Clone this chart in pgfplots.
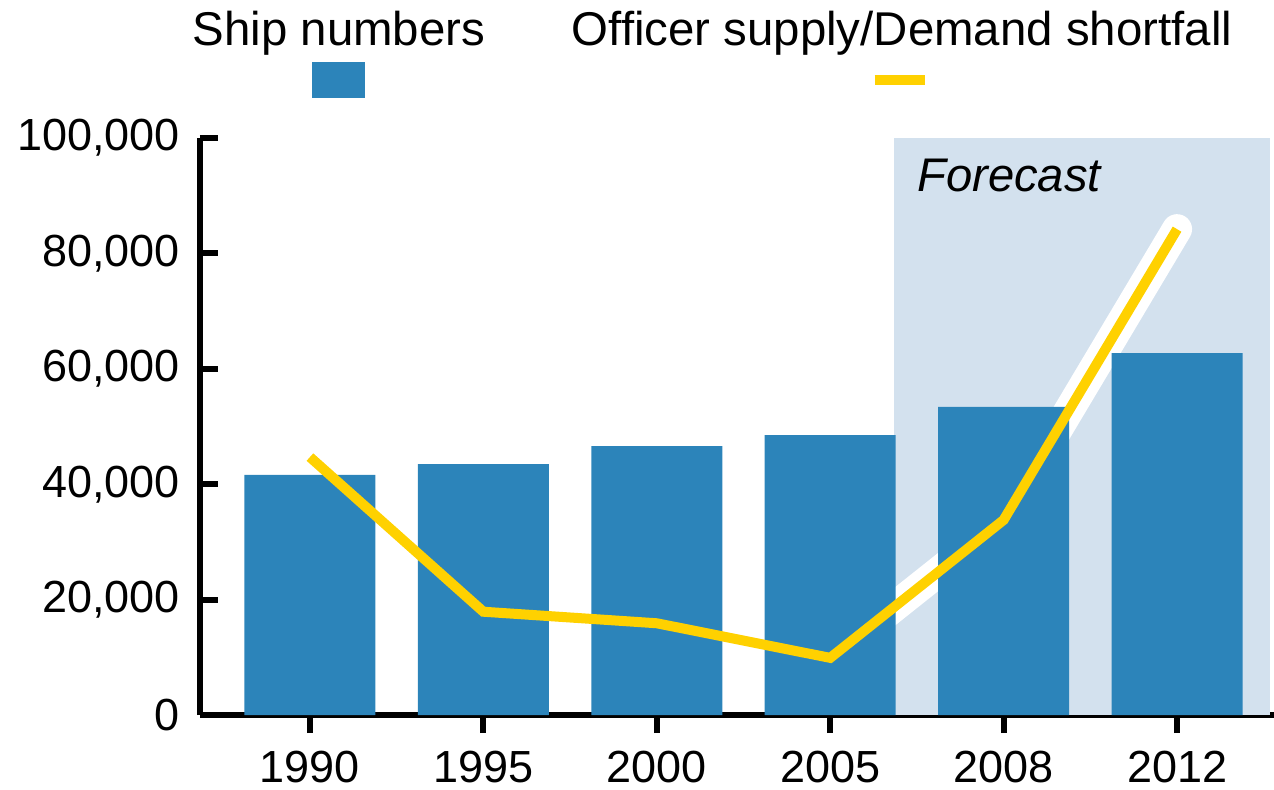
\documentclass[border=0pt]{standalone}
\usepackage{fontspec}
\setmainfont{Liberation Sans}
\usepackage{pgfplots}
\pgfplotsset{compat=1.18}
\definecolor{barblue}{HTML}{2C84BA}
\definecolor{shadebg}{HTML}{D3E1EE}
\definecolor{lineyel}{HTML}{FFD100}
\begin{document}
\fontsize{22.3}{26}\selectfont
\begin{tikzpicture}
\begin{axis}[
 at={(0,0)}, anchor=south west,
 scale only axis, width=537pt, height=288.5pt,
 xmin=-0.634, xmax=5.559, ymin=0, ymax=100000,
 axis x line=bottom, axis y line=left,
 axis line style={-, line width=3pt, black},
 xtick={0,...,5}, xticklabels={1990,1995,2000,2005,2008,2012},
 ytick={0,20000,...,100000},
 scaled y ticks=false,
 yticklabel style={xshift=-2.5pt, /pgf/number format/.cd, fixed, 1000 sep={,}},
 /pgf/number format/assume math mode=true,
 tick align=inside,
 major tick length=9pt,
 tick style={line width=3pt, black},
 every x tick/.append style={yshift=-9pt},
 xticklabel style={inner sep=0pt, yshift=-18pt},
 clip=false,
 font=\fontsize{22.5}{26}\selectfont,
]
\fill[shadebg] (axis cs:3.368,0) rectangle (axis cs:5.536,100000);
\node[anchor=base west, inner sep=0pt, font=\fontsize{23.6}{26}\selectfont\itshape] at (axis cs:3.50,90800) {Forecast};
\addplot[white, line width=15pt, line cap=round, line join=round, mark=none] coordinates {
 (0,44700) (1,17900) (2,15900) (3,9900) (4,33800) (5,84200)};
\addplot[ybar, bar width=65.5pt, fill=barblue, draw=none] coordinates {
 (0,41600) (1,43500) (2,46600) (3,48500) (4,53400) (5,62700)};
\addplot[lineyel, line width=5pt, mark=none] coordinates {
 (0,44700) (1,17900) (2,15900) (3,9900) (4,33800) (5,84200)};
\node[anchor=base, font=\fontsize{23.7}{26}\selectfont] at (axis cs:0.167,116000) {Ship numbers};
\node[anchor=base, font=\fontsize{23.7}{26}\selectfont] at (axis cs:3.414,116000) {Officer supply/Demand shortfall};
\fill[barblue] (axis cs:0.164,110050) ++(-13.25pt,-9pt) rectangle ++(26.5pt,18pt);
\draw[lineyel, line width=5pt] (axis cs:3.40,110050) ++(-12.5pt,0pt) -- ++(25pt,0pt);
\end{axis}
\pgfresetboundingbox
\useasboundingbox (-100pt,-37pt) rectangle (537pt,357.5pt);
\end{tikzpicture}
\end{document}
